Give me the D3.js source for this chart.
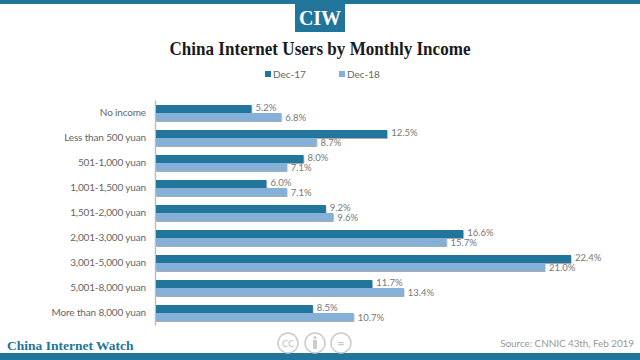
<!DOCTYPE html>
<html>
<head>
<meta charset="utf-8">
<script src="https://cdn.jsdelivr.net/npm/d3@7"></script>
<style>
  html, body { margin: 0; padding: 0; background: #fff; }
  text { font-family: Lato, sans-serif; }
  .serif { font-family: "Liberation Serif", serif; font-weight: bold; }
</style>
</head>
<body>
<div id="chart"></div>
<script>
const categories = ["No income", "Less than 500 yuan", "501-1,000 yuan", "1,001-1,500 yuan",
  "1,501-2,000 yuan", "2,001-3,000 yuan", "3,001-5,000 yuan", "5,001-8,000 yuan", "More than 8,000 yuan"];
const dec17 = [5.2, 12.5, 8.0, 6.0, 9.2, 16.6, 22.4, 11.7, 8.5];
const dec18 = [6.8, 8.7, 7.1, 7.1, 9.6, 15.7, 21.0, 13.4, 10.7];
const seriesNames = ["Dec-17", "Dec-18"];
const colors = ["#21759b", "#85b1d9"];

const W = 640, H = 360;
const svg = d3.select("#chart").append("svg")
  .attr("width", W).attr("height", H)
  .style("display", "block");

// Soft shadow under the bars
const shadow = svg.append("defs").append("filter").attr("id", "shadow")
  .attr("x", "-2%").attr("y", "-20%").attr("width", "104%").attr("height", "150%");
shadow.append("feDropShadow")
  .attr("dx", 0.5).attr("dy", 1).attr("stdDeviation", 0.6)
  .attr("flood-color", "#888").attr("flood-opacity", 0.7);

// Header
svg.append("rect").attr("x", 0).attr("y", 0).attr("width", W).attr("height", 4).attr("fill", colors[0]);
svg.append("rect").attr("x", 295).attr("y", 0).attr("width", 50).attr("height", 32).attr("fill", colors[0]);
svg.append("text").attr("class", "serif").attr("x", 320).attr("y", 25)
  .attr("text-anchor", "middle").attr("font-size", 20).attr("fill", "#fff").text("CIW");
svg.append("text").attr("class", "serif").attr("x", 320).attr("y", 55)
  .attr("text-anchor", "middle").attr("font-size", 18).attr("fill", "#1a1a1a")
  .attr("textLength", 301).attr("lengthAdjust", "spacingAndGlyphs")
  .text("China Internet Users by Monthly Income");

// Legend
const legendX = [265, 339];
seriesNames.forEach((name, i) => {
  svg.append("rect").attr("x", legendX[i]).attr("y", 71).attr("width", 6).attr("height", 6).attr("fill", colors[i]);
  svg.append("text").attr("x", legendX[i] + 8).attr("y", 78)
    .attr("font-size", 10).attr("fill", "#666").text(name);
});

// Scales
const x = d3.scaleLinear().domain([0, 22.4]).range([155, 571]);
const y = d3.scaleBand().domain(categories).range([100, 325]);
const inner = d3.scaleBand().domain([0, 1]).range([5, 21]);

// Category axis
const axis = svg.append("g").attr("transform", "translate(155,0)")
  .call(d3.axisLeft(y).tickSize(0).tickPadding(9));
axis.select(".domain").attr("stroke", "#bfbfbf").attr("stroke-width", 1.5);
axis.selectAll("text").attr("font-size", 10).attr("fill", "#666")
  .style("font-family", "Lato, sans-serif").style("letter-spacing", "-0.15px");

// Bars and labels
[dec17, dec18].forEach((values, s) => {
  const g = svg.append("g");
  g.selectAll("rect").data(values).join("rect")
    .attr("x", x(0) + 1)
    .attr("y", (d, i) => y(categories[i]) + inner(s))
    .attr("width", d => x(d) - x(0) - 1)
    .attr("height", inner.bandwidth())
    .attr("fill", colors[s])
    .attr("filter", "url(#shadow)");
  g.selectAll("text").data(values).join("text")
    .attr("x", d => x(d) + 4)
    .attr("y", (d, i) => y(categories[i]) + inner(s) + inner.bandwidth() / 2 + (s ? 3.5 : 2))
    .attr("font-size", 9.5).attr("fill", "#777")
    .text(d => d.toFixed(1) + "%");
});

// Footer
svg.append("text").attr("class", "serif").attr("x", 7).attr("y", 350)
  .attr("font-size", 13.5).attr("fill", colors[0]).text("China Internet Watch");
svg.append("text").attr("x", 634).attr("y", 347).attr("text-anchor", "end")
  .attr("font-size", 10).attr("fill", "#999").style("letter-spacing", "-0.1px")
  .text("Source: CNNIC 43th, Feb 2019");
svg.append("rect").attr("x", 0).attr("y", 353).attr("width", W).attr("height", 7).attr("fill", colors[0]);

// Licence badges
const badges = svg.append("g").attr("fill", "none").attr("stroke", "#ccc").attr("stroke-width", 1.5);
[288, 315, 341].forEach(cx => badges.append("circle").attr("cx", cx).attr("cy", 343).attr("r", 10));
svg.append("text").attr("x", 288).attr("y", 346.5).attr("text-anchor", "middle")
  .attr("font-size", 9).attr("font-weight", "bold").attr("fill", "#ccc").text("CC");
svg.append("circle").attr("cx", 315).attr("cy", 337.5).attr("r", 1.6).attr("fill", "#ccc");
svg.append("rect").attr("x", 313).attr("y", 340).attr("width", 4).attr("height", 9).attr("fill", "#ccc");
svg.append("text").attr("x", 341).attr("y", 347).attr("text-anchor", "middle")
  .attr("font-size", 12).attr("font-weight", "bold").attr("fill", "#ccc").text("=");
</script>
</body>
</html>
